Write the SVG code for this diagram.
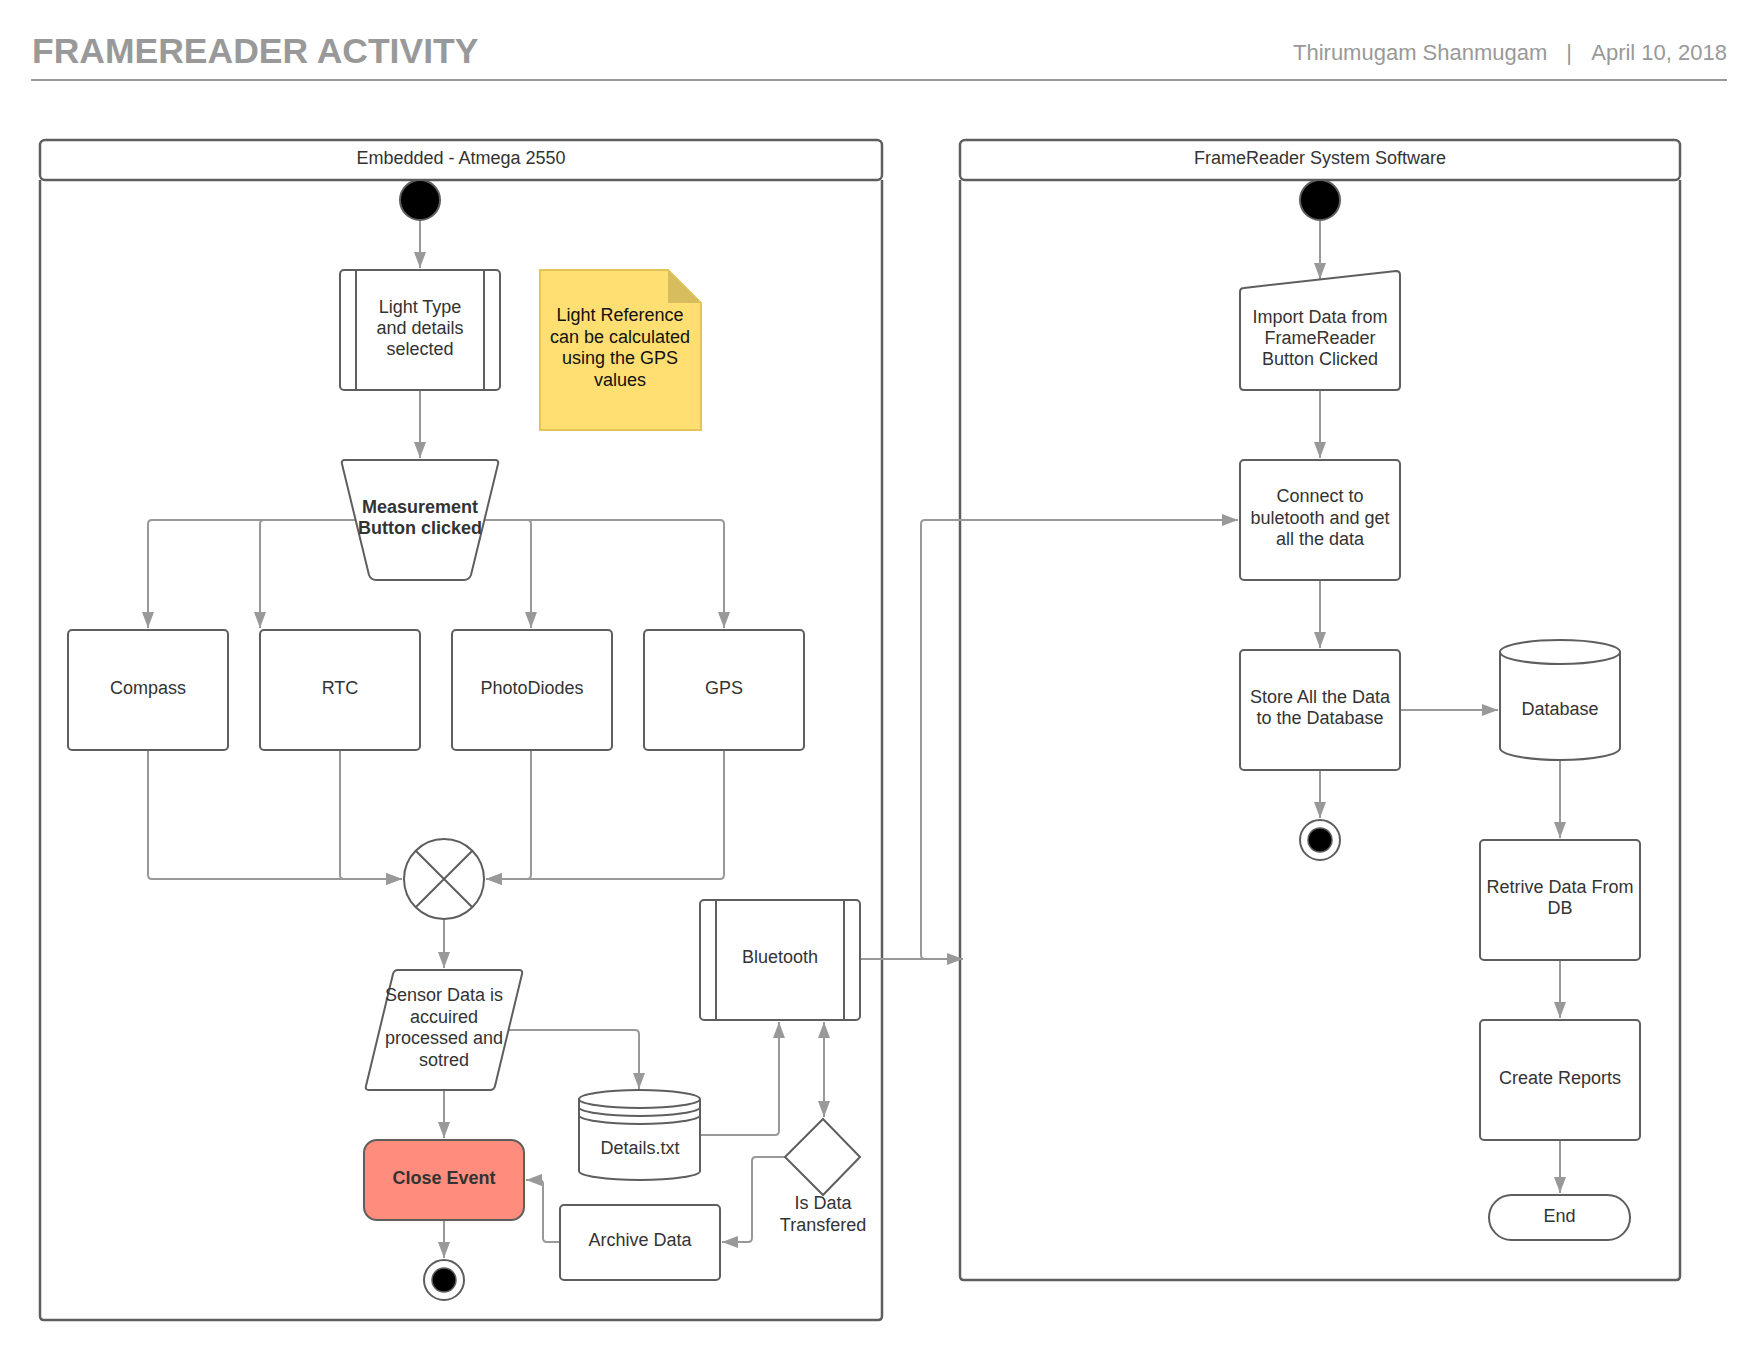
<svg xmlns="http://www.w3.org/2000/svg" width="1760" height="1360" viewBox="0 0 1760 1360">
<defs>
<marker id="ah" markerUnits="userSpaceOnUse" markerWidth="18" markerHeight="14" refX="16" refY="6" orient="auto">
<path d="M0,0 L16,6 L0,12 z" fill="#999999"/>
</marker>
<marker id="ahs" markerUnits="userSpaceOnUse" markerWidth="18" markerHeight="14" refX="0" refY="6" orient="auto">
<path d="M16,0 L0,6 L16,12 z" fill="#999999"/>
</marker>
</defs>
<style>
.bg{fill:#ffffff}
.n{fill:#ffffff;stroke:#5e5e5e;stroke-width:2}
.lane{fill:#ffffff;stroke:#5e5e5e;stroke-width:2.5}
.t{font-family:"Liberation Sans",Arial,sans-serif;font-size:18px;fill:#333333;text-anchor:middle}
.b{font-weight:bold}
.c{fill:none;stroke:#999999;stroke-width:2}
.ca{fill:none;stroke:#999999;stroke-width:2;marker-end:url(#ah)}
.hdr{font-family:"Liberation Sans",Arial,sans-serif;fill:#999999}
</style>
<rect class="bg" x="0" y="0" width="1760" height="1360"/>

<g id="header">
<text class="hdr" x="32" y="63" font-size="35.5" font-weight="bold">FRAMEREADER ACTIVITY</text>
<text class="hdr" x="1293" y="60" font-size="22">Thirumugam Shanmugam</text>
<text class="hdr" x="1569" y="60" font-size="22" text-anchor="middle">|</text>
<text class="hdr" x="1727" y="60" font-size="22" text-anchor="end">April 10, 2018</text>
<line x1="31" y1="80" x2="1727" y2="80" stroke="#999999" stroke-width="2"/>
</g>

<g id="lane-embedded">
<path class="lane" d="M40,180 V1316 Q40,1320 44,1320 H878 Q882,1320 882,1316 V180"/>
<rect class="lane" x="40" y="140" width="842" height="40" rx="5"/>
<text class="t" x="461" y="164" font-size="17.5">Embedded - Atmega 2550</text>
</g>

<g id="lane-software">
<path class="lane" d="M960,180 V1276 Q960,1280 964,1280 H1676 Q1680,1280 1680,1276 V180"/>
<rect class="lane" x="960" y="140" width="720" height="40" rx="5"/>
<text class="t" x="1320" y="164" font-size="17.5">FrameReader System Software</text>
</g>

<g id="connectors">
<path class="ca" d="M420,220 V268"/>
<path class="ca" d="M420,390 V458"/>
<path class="ca" d="M356,520 H152 Q148,520 148,524 V628"/>
<path class="ca" d="M356,520 H264 Q260,520 260,524 V628"/>
<path class="ca" d="M484,520 H527 Q531,520 531,524 V628"/>
<path class="ca" d="M484,520 H720 Q724,520 724,524 V628"/>
<path class="ca" d="M148,750 V875 Q148,879 152,879 H402"/>
<path class="ca" d="M340,750 V875 Q340,879 344,879 H402"/>
<path class="ca" d="M531,750 V875 Q531,879 527,879 H486"/>
<path class="ca" d="M724,750 V875 Q724,879 720,879 H486"/>
<path class="ca" d="M444,919 V968"/>
<path class="ca" d="M508,1030 H635 Q639,1030 639,1034 V1089"/>
<path class="ca" d="M444,1090 V1138"/>
<path class="ca" d="M700,1135 H775 Q779,1135 779,1131 V1022"/>
<path class="ca" d="M824,1117 V1022" marker-start="url(#ahs)"/>
<path class="ca" d="M785,1157 H756 Q752,1157 752,1161 V1238 Q752,1242 748,1242 H722"/>
<path class="ca" d="M560,1242 H547 Q543,1242 543,1238 V1184 Q543,1180 539,1180 H526"/>
<path class="ca" d="M444,1220 V1258"/>
<path class="ca" d="M860,959 H963"/>
<path class="ca" d="M960,959 H925 Q921,959 921,955 V524 Q921,520 925,520 H1238"/>
<path class="ca" d="M1320,220 V279"/>
<path class="ca" d="M1320,390 V458"/>
<path class="ca" d="M1320,580 V648"/>
<path class="ca" d="M1400,710 H1498"/>
<path class="ca" d="M1320,770 V818"/>
<path class="ca" d="M1560,760 V838"/>
<path class="ca" d="M1560,960 V1018"/>
<path class="ca" d="M1560,1140 V1193"/>
</g>

<g id="start-embedded">
<circle cx="420" cy="200" r="20" fill="#000000" stroke="#5e5e5e" stroke-width="2"/>
</g>

<g id="light-type">
<rect class="n" x="340" y="270" width="160" height="120" rx="4"/>
<line x1="356" y1="270" x2="356" y2="390" stroke="#5e5e5e" stroke-width="2"/>
<line x1="484" y1="270" x2="484" y2="390" stroke="#5e5e5e" stroke-width="2"/>
<text class="t" x="420" y="313">Light Type</text>
<text class="t" x="420" y="334">and details</text>
<text class="t" x="420" y="355">selected</text>
</g>

<g id="note">
<path d="M540,270 H668 L701,303 V430 H540 z" fill="#FFDF71" stroke="#E3C457" stroke-width="2"/>
<path d="M668,270 L701,303 H668 z" fill="#D8BD5E"/>
<text class="t" x="620" y="321" style="fill:#111111">Light Reference</text>
<text class="t" x="620" y="343" style="fill:#111111">can be calculated</text>
<text class="t" x="620" y="364" style="fill:#111111">using the GPS</text>
<text class="t" x="620" y="386" style="fill:#111111">values</text>
</g>

<g id="measurement">
<path class="n" d="M345,460 H495 Q499,460 498,464 L471,575 Q469,580 464,580 H376 Q371,580 369,575 L342,464 Q341,460 345,460 z"/>
<text class="t b" x="420" y="513">Measurement</text>
<text class="t b" x="420" y="534">Button clicked</text>
</g>

<g id="compass">
<rect class="n" x="68" y="630" width="160" height="120" rx="4"/>
<text class="t" x="148" y="694">Compass</text>
</g>
<g id="rtc">
<rect class="n" x="260" y="630" width="160" height="120" rx="4"/>
<text class="t" x="340" y="694">RTC</text>
</g>
<g id="photodiodes">
<rect class="n" x="452" y="630" width="160" height="120" rx="4"/>
<text class="t" x="532" y="694">PhotoDiodes</text>
</g>
<g id="gps">
<rect class="n" x="644" y="630" width="160" height="120" rx="4"/>
<text class="t" x="724" y="694">GPS</text>
</g>

<g id="merge">
<circle class="n" cx="444" cy="879" r="40"/>
<line x1="415.7" y1="850.7" x2="472.3" y2="907.3" stroke="#5e5e5e" stroke-width="2"/>
<line x1="472.3" y1="850.7" x2="415.7" y2="907.3" stroke="#5e5e5e" stroke-width="2"/>
</g>

<g id="sensor-data">
<path class="n" d="M398,970 H519 Q523,970 522,974 L495,1086 Q494,1090 490,1090 H369 Q365,1090 366,1086 L393,974 Q394,970 398,970 z"/>
<text class="t" x="444" y="1001">Sensor Data is</text>
<text class="t" x="444" y="1023">accuired</text>
<text class="t" x="444" y="1044">processed and</text>
<text class="t" x="444" y="1066">sotred</text>
</g>

<g id="details-txt">
<path class="n" d="M579,1099 V1171 A60.5,9 0 0 0 700,1171 V1099"/>
<ellipse class="n" cx="639.5" cy="1099" rx="60.5" ry="9"/>
<path d="M579,1107 A60.5,9 0 0 0 700,1107 M579,1115 A60.5,9 0 0 0 700,1115" fill="none" stroke="#5e5e5e" stroke-width="2"/>
<text class="t" x="640" y="1154">Details.txt</text>
</g>

<g id="bluetooth">
<rect class="n" x="700" y="900" width="160" height="120" rx="4"/>
<line x1="716" y1="900" x2="716" y2="1020" stroke="#5e5e5e" stroke-width="2"/>
<line x1="844" y1="900" x2="844" y2="1020" stroke="#5e5e5e" stroke-width="2"/>
<text class="t" x="780" y="963">Bluetooth</text>
</g>

<g id="decision">
<path class="n" d="M823,1119 L860,1157 L823,1195 L785,1157 z"/>
<text class="t" x="823" y="1209">Is Data</text>
<text class="t" x="823" y="1231">Transfered</text>
</g>

<g id="archive-data">
<rect class="n" x="560" y="1205" width="160" height="75" rx="4"/>
<text class="t" x="640" y="1246">Archive Data</text>
</g>

<g id="close-event">
<rect x="364" y="1140" width="160" height="80" rx="13" fill="#FF8D7E" stroke="#5e5e5e" stroke-width="2"/>
<text class="t b" x="444" y="1184">Close Event</text>
</g>

<g id="end-embedded">
<circle cx="444" cy="1280" r="20" fill="#ffffff" stroke="#5e5e5e" stroke-width="2"/>
<circle cx="444" cy="1280" r="12" fill="#000000" stroke="#5e5e5e" stroke-width="1.5"/>
</g>

<g id="start-software">
<circle cx="1320" cy="200" r="20" fill="#000000" stroke="#5e5e5e" stroke-width="2"/>
</g>

<g id="import-data">
<path class="n" d="M1244,288 L1396,271 Q1400,271 1400,275 V386 Q1400,390 1396,390 H1244 Q1240,390 1240,386 V292 Q1240,288 1244,288 z"/>
<text class="t" x="1320" y="323">Import Data from</text>
<text class="t" x="1320" y="344">FrameReader</text>
<text class="t" x="1320" y="365">Button Clicked</text>
</g>

<g id="connect-bluetooth">
<rect class="n" x="1240" y="460" width="160" height="120" rx="4"/>
<text class="t" x="1320" y="502">Connect to</text>
<text class="t" x="1320" y="524">buletooth and get</text>
<text class="t" x="1320" y="545">all the data</text>
</g>

<g id="store-data">
<rect class="n" x="1240" y="650" width="160" height="120" rx="4"/>
<text class="t" x="1320" y="703">Store All the Data</text>
<text class="t" x="1320" y="724">to the Database</text>
</g>

<g id="database">
<path class="n" d="M1500,652 V748 A60,12 0 0 0 1620,748 V652"/>
<ellipse class="n" cx="1560" cy="652" rx="60" ry="12"/>
<text class="t" x="1560" y="715">Database</text>
</g>

<g id="end-software">
<circle cx="1320" cy="840" r="20" fill="#ffffff" stroke="#5e5e5e" stroke-width="2"/>
<circle cx="1320" cy="840" r="12" fill="#000000" stroke="#5e5e5e" stroke-width="1.5"/>
</g>

<g id="retrive-data">
<rect class="n" x="1480" y="840" width="160" height="120" rx="4"/>
<text class="t" x="1560" y="893">Retrive Data From</text>
<text class="t" x="1560" y="914">DB</text>
</g>

<g id="create-reports">
<rect class="n" x="1480" y="1020" width="160" height="120" rx="4"/>
<text class="t" x="1560" y="1084">Create Reports</text>
</g>

<g id="end-terminator">
<rect class="n" x="1489" y="1195" width="141" height="45" rx="22.5"/>
<text class="t" x="1559.5" y="1222">End</text>
</g>
</svg>
